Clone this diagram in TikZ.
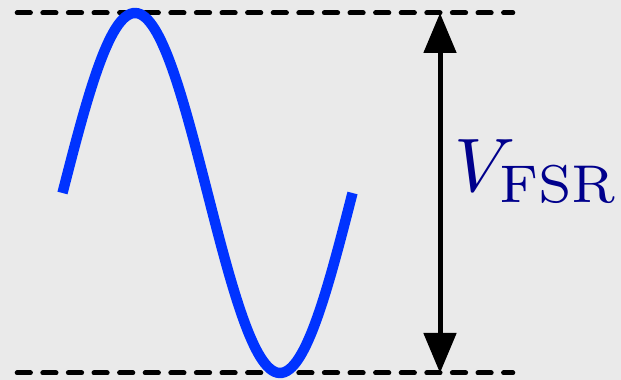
\documentclass[tikz,border=0pt]{standalone}
\usepackage{amsmath,amssymb}
\usetikzlibrary{arrows.meta}
\definecolor{wavecol}{RGB}{0,51,255}
\definecolor{fsrcol}{RGB}{0,0,140}
\definecolor{fondcol}{RGB}{234,234,234}
\tikzset{>=Triangle,every node/.style={font=\normalsize},level/.style={line width=.125cm,dash pattern=on .33cm off .31cm,line cap=round},wave/.style={line width=.26cm,wavecol},span/.style={line width=.125cm,{Triangle[length=1cm,width=.8cm]}-{Triangle[length=1cm,width=.8cm]}}}

\begin{document}
\begin{tikzpicture}
\fill[fondcol] (0,0) rectangle (15.525,9.5);\useasboundingbox (0,0) rectangle (15.525,9.5);
% Niveaux haut et bas : pleine echelle, 1px = 0.025cm.
\coordinate (H0) at (.43,9.175);\coordinate (H1) at (12.82,9.175);\coordinate (B0) at (.43,.175);\coordinate (B1) at (12.82,.175);
\draw[level] (H0)--(H1);\draw[level] (B0)--(B1);
\draw[wave] plot[domain=0:360,samples=120,smooth] ({1.5625+\x/360*7.25},{4.675+4.5*sin(\x)});
\coordinate (T) at (11,9.175);\coordinate (U) at (11,.175);\draw[span] (T)--(U);
\node[scale=5.4,anchor=base west,inner sep=0,text=fsrcol] (fsr) at (11.33,4.72){$V_{\mathrm{FSR}}$};
\end{tikzpicture}
\end{document}
